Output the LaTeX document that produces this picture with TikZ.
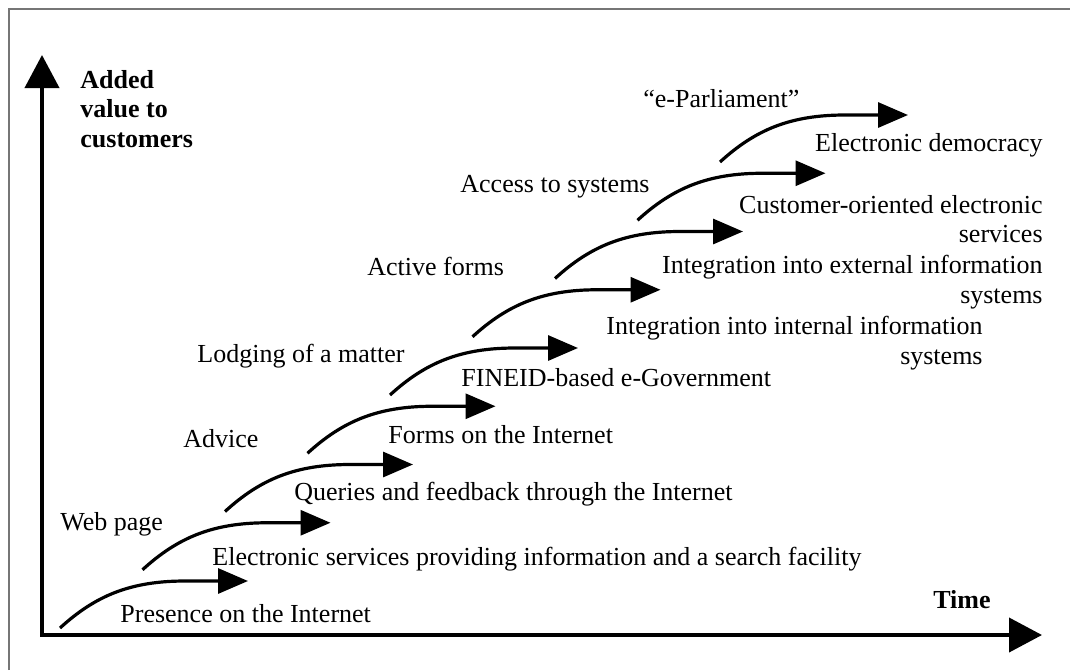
\documentclass[tikz,border=0pt]{standalone}
\usepackage{fontspec}
\setmainfont{Liberation Serif}
\usetikzlibrary{arrows.meta}
\definecolor{framegray}{RGB}{118,118,118}
\newcommand\labelfont{\fontsize{13}{14.7}\selectfont}
\tikzset{
	every node/.style = {font=\labelfont, inner sep=0pt},
	axis/.style = {line width=2pt, line join=miter,
		{Triangle[length=16.5pt,width=17pt]}-{Triangle[length=16.5pt,width=17pt]}},
	stage/.style = {line width=1.6pt, -{Triangle[length=15pt,width=12.5pt]}},
	before/.style = {anchor=base west},
	after/.style = {anchor=base west},
	afterright/.style = {anchor=north east, align=right}
}

\begin{document}
\begin{tikzpicture}[x=0.5pt, y=-0.5pt]
	\useasboundingbox (0,0) rectangle (1070,670);
	% frame, cut at the right and at the bottom
	\draw[framegray, line width=1pt] (9,670) -- (9,8.5) -- (1070,8.5);

	% axes
	\coordinate (origin) at (42,635);
	\coordinate (ytop) at (42,55);
	\coordinate (xend) at (1042,635);
	\draw[axis] (ytop) -- (origin) -- (xend);
	\node[anchor=north west, align=left, font=\labelfont\bfseries] (value) at (80,70) {Added\\value to\\customers};
	\node[anchor=base, font=\labelfont\bfseries] (time) at (962,608) {Time};

	% steps
	\foreach \k in {0,...,8}
		\draw[stage, shift={(60+82.5*\k,628-58.25*\k)}] (0,0) coordinate (s\k)
			.. controls (35,-32) and (70,-47) .. (125,-47) -- (188,-47) coordinate (t\k);

	% what is offered at each step
	\node[before] (web) at (60,530) {Web page};
	\node[before] (advice) at (183,447) {Advice};
	\node[before] (lodging) at (197,362) {Lodging of a matter};
	\node[before] (active) at (367,275) {Active forms};
	\node[before] (access) at (460,192) {Access to systems};
	\node[before] (parliament) at (643,107) {“e-Parliament”};

	% services
	\node[after] (presence) at (120,622) {Presence on the Internet};
	\node[after] (search) at (212,565) {Electronic services providing information and a search facility};
	\node[after] (queries) at (294,500) {Queries and feedback through the Internet};
	\node[after] (forms) at (388,443) {Forms on the Internet};
	\node[after] (fineid) at (461,386) {FINEID-based e-Government};
	\node[afterright] (internal) at (983,316) {Integration into internal information\\systems};
	\node[afterright] (external) at (1043,255) {Integration into external information\\systems};
	\node[afterright] (customer) at (1043,195) {Customer-oriented electronic\\services};
	\node[anchor=base east] (democracy) at (1043,151) {Electronic democracy};
\end{tikzpicture}
\end{document}
